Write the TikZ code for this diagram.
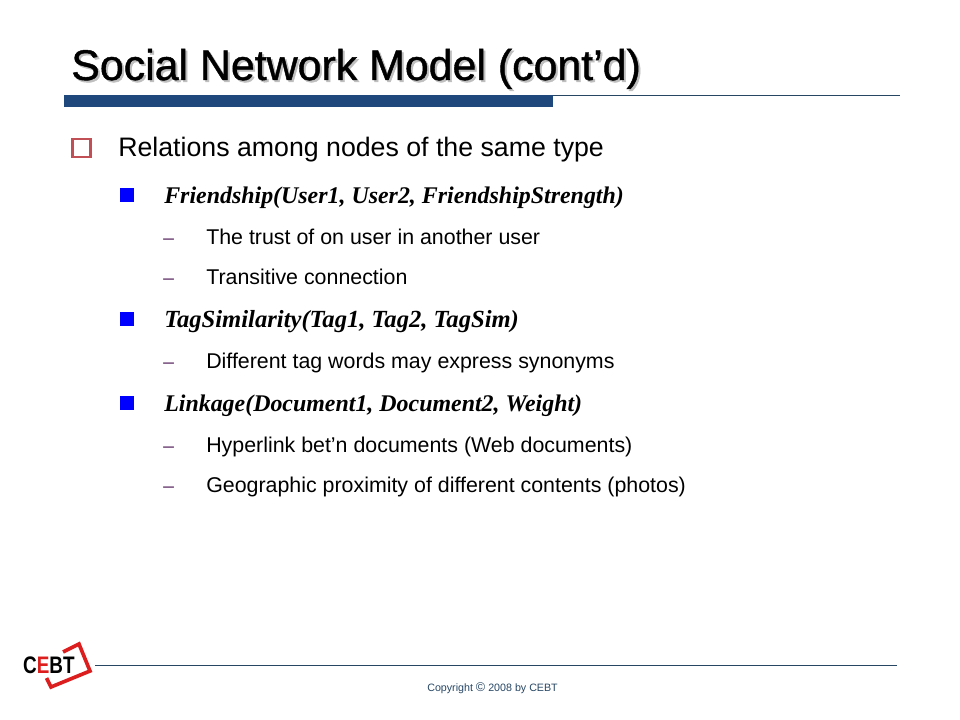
\documentclass[tikz,border=0pt]{standalone}
\usepackage{fontspec}
\setmainfont{Liberation Sans}
\newfontfamily\serifit{Liberation Serif}
\newfontfamily\titlefont[FakeBold=1.0]{Liberation Sans}
\definecolor{barblue}{RGB}{31,73,125}
\definecolor{linedark}{RGB}{38,70,100}
\definecolor{boxred}{RGB}{192,80,85}
\definecolor{logored}{RGB}{220,30,30}
\definecolor{dashpurple}{RGB}{60,0,70}
\tikzset{
  titletext/.style={anchor=base west,inner sep=0pt,font=\fontsize{30.5}{32}\titlefont},
  lvlone/.style={anchor=base west,inner sep=0pt,font=\fontsize{19}{21}\selectfont},
  lvltwo/.style={anchor=base west,inner sep=0pt,font=\fontsize{17}{19}\serifit\bfseries\itshape},
  lvlthree/.style={anchor=base west,inner sep=0pt,font=\fontsize{15.2}{17}\selectfont},
  dashmark/.style={anchor=base west,inner sep=0pt,text=dashpurple,font=\fontsize{15}{17}\serifit},
  squaremark/.style={fill=blue,minimum size=10pt,inner sep=0pt}
}
\begin{document}
\begin{tikzpicture}[x=0.025cm,y=-0.025cm]
\useasboundingbox (0,0) rectangle (960,720);

% title
\node [titletext,text=black!25] (shadow) at (73,82) {Social Network Model (cont’d)};
\node [titletext] (title) at (71,80) {Social Network Model (cont’d)};

% rules
\draw [linedark, line width=0.7pt] (553,95.5) -- (900,95.5);
\fill [barblue] (64,95) rectangle (553,107);

% first level
\node [draw=boxred, line width=1.9pt, minimum size=13pt, inner sep=0pt] (box) at (81.5,148) {};
\node [lvlone] (rel) at (118,157) {Relations among nodes of the same type};

\node [squaremark] (sq1) at (127,195) {};
\node [lvltwo] (friend) at (164,204) {Friendship(User1, User2, FriendshipStrength)};
\node [dashmark] (d1) at (163,245) {–};
\node [lvlthree] (trust) at (206,245) {The trust of on user in another user};
\node [dashmark] (d2) at (163,285) {–};
\node [lvlthree] (trans) at (206,285) {Transitive connection};

\node [squaremark] (sq2) at (127,319) {};
\node [lvltwo,font=\fontsize{17.5}{19}\serifit\bfseries\itshape] (tag) at (164,328) {TagSimilarity(Tag1, Tag2, TagSim)};
\node [dashmark] (d3) at (163,369) {–};
\node [lvlthree] (syn) at (206,369) {Different tag words may express synonyms};

\node [squaremark] (sq3) at (127,403) {};
\node [lvltwo] (link) at (164,412) {Linkage(Document1, Document2, Weight)};
\node [dashmark] (d4) at (163,453) {–};
\node [lvlthree] (hyper) at (206,453) {Hyperlink bet’n documents (Web documents)};
\node [dashmark] (d5) at (163,493) {–};
\node [lvlthree] (geo) at (206,493) {Geographic proximity of different contents (photos)};

% footer
\draw [linedark, line width=0.7pt] (95,665.5) -- (897,665.5);
\node [right,inner sep=0pt,text=linedark,font=\fontsize{7.6}{9}\selectfont] (copy) at (427,688) {Copyright {\fontsize{9}{9}\selectfont ©} 2008 by CEBT};

% logo
\draw [logored, line width=2.6pt, line join=miter] (63,652) -- (79,644) -- (90,671) -- (51,687) -- (46.5,678);
\node [right,inner sep=0pt,xscale=0.79,font=\fontsize{17}{19}\bfseries\selectfont] (logo) at (23,665.5) {C\textcolor{logored}{E}BT};

\end{tikzpicture}
\end{document}
